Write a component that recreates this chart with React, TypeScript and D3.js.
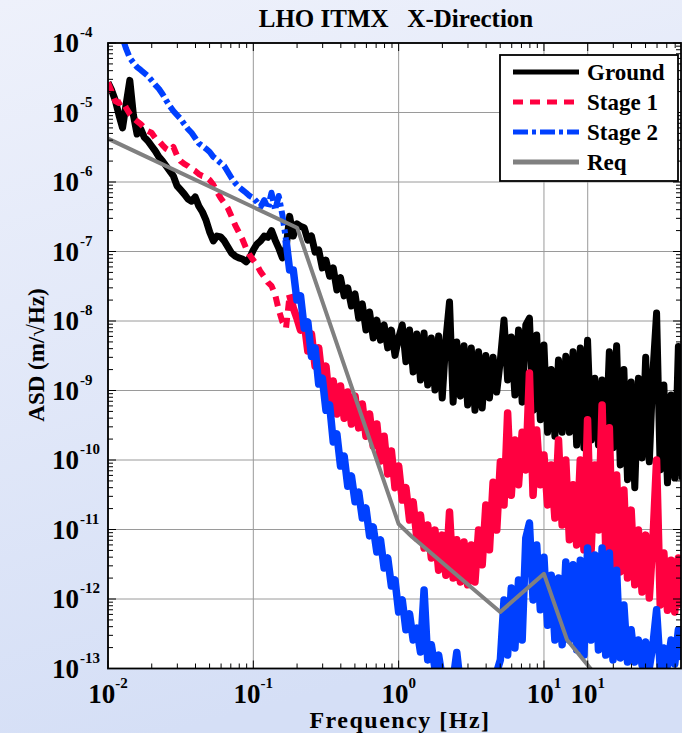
import React from "react";
import * as d3 from "d3";

// Frequency bins (Hz)
const freq: number[] = [
  0.01, 0.01059, 0.01122, 0.01189, 0.01259, 0.01334, 0.01413, 0.01496, 0.01585, 0.01679,
  0.01778, 0.01884, 0.01995, 0.02113, 0.02239, 0.02371, 0.02512, 0.02661, 0.02818, 0.02985,
  0.03162, 0.0335, 0.03548, 0.03758, 0.03981, 0.04217, 0.04467, 0.04732, 0.05012, 0.05309,
  0.05623, 0.05957, 0.0631, 0.06683, 0.07079, 0.07499, 0.07943, 0.08414, 0.08913, 0.09441,
  0.1, 0.1059, 0.1122, 0.1189, 0.1259, 0.1334, 0.1413, 0.1496, 0.1585, 0.1679,
  0.1778, 0.1884, 0.1995, 0.2113, 0.2239, 0.2371, 0.2512, 0.2661, 0.2818, 0.2985,
  0.3162, 0.335, 0.3548, 0.3758, 0.3981, 0.4217, 0.4467, 0.4732, 0.5012, 0.5309,
  0.5623, 0.5957, 0.631, 0.6683, 0.7079, 0.7499, 0.7943, 0.8414, 0.8913, 0.9441,
  1, 1.059, 1.122, 1.189, 1.259, 1.334, 1.413, 1.496, 1.585, 1.679,
  1.778, 1.884, 1.995, 2.113, 2.239, 2.371, 2.512, 2.661, 2.818, 2.985,
  3.162, 3.35, 3.548, 3.758, 3.981, 4.217, 4.467, 4.732, 5.012, 5.309,
  5.623, 5.957, 6.31, 6.683, 7.079, 7.499, 7.943, 8.414, 8.913, 9.441,
  10, 10.59, 11.22, 11.89, 12.59, 13.34, 14.13, 14.96, 15.85, 16.79,
  17.78, 18.84, 19.95, 21.13, 22.39, 23.71, 25.12, 26.61, 28.18, 29.85,
  31.62, 33.5, 35.48, 37.58, 39.81, 42.17, 44.67, 47.32, 50.12, 53.09,
  56.23, 59.57, 63.1, 66.83, 70.79, 74.99, 79.43, 84.14, 89.13,
];

// ASD (m/sqrt(Hz))
const ground: number[] = [
  2.7e-5, 2.1e-5, 1.5e-5, 9.2e-6, 6.0e-6, 1.33e-5, 2.9e-5, 9.2e-6, 4.9e-6, 5.8e-6,
  4.4e-6, 3.9e-6, 3.3e-6, 2.8e-6, 2.3e-6, 2.0e-6, 1.7e-6, 1.44e-6, 1.22e-6, 8.8e-7,
  7.7e-7, 6.7e-7, 5.7e-7, 5.3e-7, 6.1e-7, 4.5e-7, 3.7e-7, 2.8e-7, 1.9e-7, 1.42e-7,
  1.67e-7, 1.62e-7, 1.42e-7, 1.16e-7, 9.5e-8, 8.6e-8, 8.1e-8, 7.8e-8, 7.1e-8, 8.1e-8,
  1.05e-7, 1.28e-7, 1.42e-7, 1.67e-7, 1.6e-7, 2.0e-7, 1.46e-7, 1.12e-7, 8.1e-8, 1.12e-7,
  3.2e-7, 1.67e-7, 2.5e-7, 2.3e-7, 2.2e-7, 1.46e-7, 1.67e-7, 9.8e-8, 1.05e-7, 5.8e-8,
  7.5e-8, 4.4e-8, 5.8e-8, 2.8e-8, 4.2e-8, 2.3e-8, 3.0e-8, 1.64e-8, 2.45e-8, 1.1e-8,
  1.76e-8, 7.4e-9, 1.35e-8, 5.7e-9, 1.03e-8, 5.3e-9, 8.8e-9, 4.1e-9, 7.4e-9, 3.2e-9,
  5.7e-9, 8.8e-9, 2.6e-9, 7.4e-9, 1.85e-9, 6.5e-9, 1.42e-9, 6.7e-9, 1.2e-9, 5.7e-9,
  1.02e-9, 6.1e-9, 7.8e-10, 5.3e-9, 1.88e-8, 6.8e-10, 5.0e-9, 8.3e-10, 4.4e-9, 6.2e-10,
  4.1e-9, 5.2e-10, 3.6e-9, 5.6e-10, 3.2e-9, 7.8e-10, 3.0e-9, 9.5e-10, 2.75e-9, 1.03e-8,
  1.42e-9, 5.9e-9, 8.6e-10, 7.4e-9, 6.8e-10, 8.8e-9, 1.1e-8, 5.2e-10, 6.3e-9, 3.8e-10,
  4.5e-9, 2.5e-10, 2.0e-9, 2.2e-10, 2.75e-9, 2.5e-10, 3.1e-9, 2.5e-10, 3.6e-9, 1.64e-10,
  4.1e-9, 1.5e-10, 5.3e-9, 1.94e-10, 1.5e-9, 1.64e-10, 1.42e-9, 1.6e-10, 3.6e-9, 1.5e-10,
  4.4e-9, 8.5e-11, 2.0e-9, 5.2e-11, 1.33e-9, 4.0e-11, 1.5e-9, 1.07e-10, 3.0e-9, 9.4e-11,
  1.85e-9, 1.3e-8, 7.2e-11, 1.2e-9, 4.7e-11, 8.6e-10, 5.5e-11, 4.3e-9, 5.2e-11,
];

const stage1: number[] = [
  2.7e-5, 2.0e-5, 1.46e-5, 1.37e-5, 1.46e-5, 1.16e-5, 9.5e-6, 8.3e-6, 7.5e-6, 6.8e-6,
  6.0e-6, 5.4e-6, 5.1e-6, 4.3e-6, 3.9e-6, 3.4e-6, 3.0e-6, 2.8e-6, 3.2e-6, 2.4e-6,
  2.0e-6, 1.82e-6, 1.7e-6, 1.54e-6, 1.44e-6, 1.3e-6, 1.22e-6, 1.18e-6, 1.07e-6, 9.1e-7,
  7.2e-7, 5.9e-7, 5.0e-7, 4.2e-7, 3.2e-7, 2.4e-7, 1.9e-7, 1.5e-7, 1.12e-7, 8.9e-8,
  7.5e-8, 6.4e-8, 5.1e-8, 4.3e-8, 3.6e-8, 3.2e-8, 2.4e-8, 1.44e-8, 9.7e-9, 7.9e-9,
  2.4e-8, 1.54e-8, 1.1e-8, 7.4e-9, 9.7e-9, 3.7e-9, 6.5e-9, 2.25e-9, 4.1e-9, 1.37e-9,
  2.25e-9, 6.4e-10, 1.37e-9, 4.6e-10, 1.16e-9, 4.0e-10, 9.5e-10, 3.3e-10, 8.3e-10, 2.9e-10,
  6.4e-10, 2.2e-10, 4.6e-10, 1.59e-10, 3.3e-10, 9.7e-11, 2.2e-10, 6.3e-11, 1.35e-10, 4.0e-11,
  8.2e-11, 2.65e-11, 4.0e-11, 1.37e-11, 2.5e-11, 7.5e-12, 1.62e-11, 5.4e-12, 1.16e-11, 3.9e-12,
  9.8e-12, 2.6e-12, 8.3e-12, 2.2e-12, 1.79e-11, 2.0e-12, 7.1e-12, 1.76e-12, 6.6e-12, 1.6e-12,
  6.0e-12, 1.76e-12, 9.8e-12, 3.1e-12, 2.25e-11, 5.1e-12, 4.8e-11, 9.8e-12, 9.4e-11, 2.25e-11,
  4.75e-10, 3.1e-11, 1.94e-10, 4.4e-11, 2.5e-10, 7.2e-11, 1.79e-9, 3.1e-11, 2.7e-10, 4.4e-11,
  1.18e-10, 2.25e-11, 8.5e-11, 1.46e-11, 1.94e-10, 1.16e-11, 1.0e-10, 7.1e-12, 4.4e-11, 6.0e-12,
  1.0e-10, 5.1e-12, 3.8e-10, 5.1e-12, 8.5e-11, 9.8e-12, 6.2e-10, 5.1e-12, 2.9e-10, 3.1e-12,
  6.1e-11, 2.45e-12, 3.7e-11, 2.0e-12, 1.9e-11, 1.6e-12, 9.8e-12, 1.26e-12, 8.3e-12, 1.03e-12,
  7.1e-12, 1.0e-10, 8.2e-13, 4.6e-12, 6.9e-13, 3.6e-12, 6.5e-13, 3.9e-12, 7.4e-13,
];

const stage2: (number | null)[] = [
  null, null, 2.45e-4, 1.7e-4, 1.18e-4, 8.2e-5, 6.1e-5, 5.2e-5, 4.5e-5, 4.1e-5,
  3.7e-5, 3.35e-5, 2.9e-5, 2.5e-5, 2.2e-5, 1.85e-5, 1.5e-5, 1.24e-5, 1.05e-5, 9.2e-6,
  8.1e-6, 6.8e-6, 5.8e-6, 5.1e-6, 4.3e-6, 3.6e-6, 3.3e-6, 3.0e-6, 2.7e-6, 2.3e-6,
  2.1e-6, 1.88e-6, 1.7e-6, 1.39e-6, 1.14e-6, 9.7e-7, 8.5e-7, 7.7e-7, 7.0e-7, 6.3e-7,
  5.9e-7, 5.15e-7, 4.4e-7, 5.5e-7, 4.2e-7, 7.0e-7, 3.95e-7, 6.3e-7, 3.35e-7, 1.46e-7,
  5.4e-8, 5.4e-8, 2.0e-8, 2.3e-8, 7.9e-9, 9.7e-9, 3.1e-9, 4.1e-9, 1.24e-9, 1.5e-9,
  5.2e-10, 6.2e-10, 1.82e-10, 2.37e-10, 8.2e-11, 1.14e-10, 4.2e-11, 5.9e-11, 2.5e-11, 3.46e-11,
  1.46e-11, 2.04e-11, 8.1e-12, 1.09e-11, 4.75e-12, 7.1e-12, 2.8e-12, 3.9e-12, 1.54e-12, 1.88e-12,
  6.5e-13, 9.7e-13, 3.6e-13, 6.1e-13, 2.57e-13, 3.8e-13, 1.73e-13, 1.35e-12, 1.33e-13, 2.2e-13,
  1.0e-13, 1.56e-13, 7.3e-14, 7.8e-14, 6.4e-14, 6.8e-14, 1.7e-13, 5.8e-14, 4.9e-14, 4.6e-14,
  5.2e-14, 4.9e-14, 6.0e-14, 5.6e-14, 6.8e-14, 7.3e-14, 8.1e-14, 8.9e-14, 1.33e-13, 9.7e-13,
  1.56e-13, 1.44e-12, 1.97e-13, 1.88e-12, 2.57e-13, 7.5e-12, 1.24e-11, 9.7e-13, 6.0e-12, 7.0e-13,
  4.0e-12, 4.2e-13, 2.2e-12, 2.57e-13, 2.0e-12, 2.2e-13, 3.4e-12, 2.57e-13, 3.1e-12, 1.85e-13,
  3.6e-12, 1.56e-13, 5.4e-12, 2.57e-13, 4.3e-12, 1.85e-13, 5.4e-12, 1.56e-13, 4.6e-12, 1.33e-13,
  2.6e-12, 1.42e-13, 8.2e-13, 1.24e-13, 3.6e-13, 1.24e-13, 2.57e-13, 1.12e-13, 2.4e-13, 1.02e-13,
  2.2e-13, 7.0e-13, 1.02e-13, 1.97e-13, 1.09e-13, 2.57e-13, 1.16e-13, 3.6e-13, 1.33e-13,
];

// Requirement curve
const reqFreq: number[] = [0.01, 0.2, 1, 1.24, 5, 10, 14.4, 24];
const reqAsd: number[] = [4.2e-6, 2.2e-7, 1.2e-11, 7.8e-12, 6.5e-13, 2.3e-12, 2.6e-13, 7e-14];

// Axis ticks and labels
const xMajorTicks: number[] = [0.01, 0.1, 1, 10, 20];
const xTickExponents: string[] = ["-2", "-1", "0", "1", "1"];
const yMajorTicks: number[] = [1e-4, 1e-5, 1e-6, 1e-7, 1e-8, 1e-9, 1e-10, 1e-11, 1e-12, 1e-13];
const yTickExponents: string[] = ["-4", "-5", "-6", "-7", "-8", "-9", "-10", "-11", "-12", "-13"];

const legendLabels: string[] = ["Ground", "Stage 1", "Stage 2", "Req"];

const W = 682;
const H = 733;
const L = 108;
const R = 681;
const T = 43;
const B = 668.5;
const FONT = "'Liberation Serif', 'Times New Roman', Times, serif";

const COLORS = ["#000000", "#ff0040", "#0040ff", "#808080"];
const DASHES = ["none", "10,7", "15,4,4,4", "none"];
// dense (noisy) sections render as a continuous band; index where each begins
const DENSE_FROM = [0, 50, 49, 0];

export default function App() {
  const x = d3.scaleLog().domain([0.01, 87.7]).range([L, R]);
  const y = d3.scaleLog().domain([1e-13, 1e-4]).range([B, T]);

  const line = d3
    .line<[number, number]>()
    .x((d) => x(d[0]))
    .y((d) => y(d[1]));

  const pts = (fs: number[], vals: (number | null)[], from = 0, to = Infinity) =>
    fs
      .map((f, i) => [f, vals[i], i] as [number, number | null, number])
      .filter((d) => d[1] != null && d[2] >= from && d[2] <= to)
      .map((d) => [d[0], d[1]] as [number, number]);

  const seriesVals: [number[], (number | null)[]][] = [
    [freq, ground],
    [freq, stage1],
    [freq, stage2],
    [reqFreq, reqAsd],
  ];
  const widths = [7, 6, 6, 4];
  const denseWidths = [7, 7.5, 7.5, 4];

  const xMinor: number[] = [];
  [0.01, 0.1, 1, 10].forEach((d) => {
    for (let m = 2; m <= 9; m++) {
      const v = d * m;
      if (v <= 87.7 && Math.abs(v - 20) > 1e-9) xMinor.push(v);
    }
  });
  const yMinor: number[] = [];
  yMajorTicks.slice(1).forEach((d) => {
    for (let m = 2; m <= 9; m++) yMinor.push(d * m);
  });

  return (
    <svg
      width={W}
      height={H}
      style={{ position: "absolute", left: 0, top: 0 }}
      fontFamily={FONT}
    >
      <defs>
        <linearGradient id="bg" x1="0" y1="0" x2="0.25" y2="1">
          <stop offset="0" stopColor="#eef1fb" />
          <stop offset="1" stopColor="#d5dff6" />
        </linearGradient>
        <clipPath id="plotClip">
          <rect x={L} y={T} width={R - L} height={B - T} />
        </clipPath>
      </defs>
      <rect x={0} y={0} width={W} height={H} fill="url(#bg)" />
      <rect x={L} y={T} width={R - L} height={B - T} fill="#ffffff" />

      {/* grid */}
      <g stroke="#9a9a9a" strokeWidth={1}>
        {xMajorTicks.map((v, i) => (
          <line key={"gx" + i} x1={x(v)} x2={x(v)} y1={T} y2={B} />
        ))}
        {yMajorTicks.map((v, i) => (
          <line key={"gy" + i} x1={L} x2={R} y1={y(v)} y2={y(v)} />
        ))}
      </g>

      {/* data */}
      <g clipPath="url(#plotClip)" fill="none" strokeLinejoin="round">
        {seriesVals.map(([fs, vs], i) => {
          const split = DENSE_FROM[i];
          if (split === 0 || DASHES[i] === "none") {
            return (
              <path
                key={"s" + i}
                d={line(pts(fs, vs)) || ""}
                stroke={COLORS[i]}
                strokeWidth={widths[i]}
                strokeDasharray={DASHES[i]}
              />
            );
          }
          return (
            <g key={"s" + i}>
              <path
                d={line(pts(fs, vs, 0, split)) || ""}
                stroke={COLORS[i]}
                strokeWidth={widths[i]}
                strokeDasharray={DASHES[i]}
              />
              <path
                d={line(pts(fs, vs, split)) || ""}
                stroke={COLORS[i]}
                strokeWidth={denseWidths[i]}
              />
            </g>
          );
        })}
      </g>

      {/* ticks */}
      <g stroke="#000" strokeWidth={1}>
        {xMajorTicks.map((v, i) => (
          <g key={"xt" + i}>
            <line x1={x(v)} x2={x(v)} y1={B} y2={B - 8} />
            <line x1={x(v)} x2={x(v)} y1={T} y2={T + 8} />
          </g>
        ))}
        {xMinor.map((v, i) => (
          <g key={"xm" + i}>
            <line x1={x(v)} x2={x(v)} y1={B} y2={B - 5} />
            <line x1={x(v)} x2={x(v)} y1={T} y2={T + 5} />
          </g>
        ))}
        {yMajorTicks.map((v, i) => (
          <g key={"yt" + i}>
            <line x1={L} x2={L + 8} y1={y(v)} y2={y(v)} />
            <line x1={R} x2={R - 8} y1={y(v)} y2={y(v)} />
          </g>
        ))}
        {yMinor.map((v, i) => (
          <g key={"ym" + i}>
            <line x1={L} x2={L + 5} y1={y(v)} y2={y(v)} />
            <line x1={R} x2={R - 5} y1={y(v)} y2={y(v)} />
          </g>
        ))}
      </g>
      <rect x={L} y={T} width={R - L} height={B - T} fill="none" stroke="#000" strokeWidth={1.8} />

      {/* x tick labels */}
      {xMajorTicks.map((v, i) => (
        <text
          key={"xl" + i}
          x={x(v)}
          y={703}
          textAnchor="middle"
          fontSize={27}
          fontWeight="bold"
          fill="#000"
        >
          10
          <tspan dy={-15} fontSize={15}>
            {xTickExponents[i]}
          </tspan>
        </text>
      ))}

      {/* y tick labels */}
      {yMajorTicks.map((v, i) => (
        <g key={"yl" + i}>
          <text x={79} y={y(v) + 9} textAnchor="end" fontSize={27} fontWeight="bold" fill="#000">
            10
          </text>
          <text x={80} y={y(v) - 6} fontSize={15} fontWeight="bold" fill="#000">
            {yTickExponents[i]}
          </text>
        </g>
      ))}

      {/* titles */}
      <text
        x={396}
        y={27}
        textAnchor="middle"
        fontSize={25}
        fontWeight="bold"
        style={{ whiteSpace: "pre" }}
      >
        {"LHO ITMX   X-Direction"}
      </text>
      <text
        x={400}
        y={728}
        textAnchor="middle"
        fontSize={24}
        fontWeight="bold"
        letterSpacing={1.5}
      >
        Frequency [Hz]
      </text>
      <text
        transform="translate(44,355) rotate(-90)"
        textAnchor="middle"
        fontSize={23}
        fontWeight="bold"
      >
        ASD (m/√Hz)
      </text>

      {/* legend */}
      <g>
        <rect x={500} y={55} width={178} height={126} fill="#fff" stroke="#000" strokeWidth={1.8} />
        {legendLabels.map((lab, i) => {
          const ly = 72 + i * 30;
          return (
            <g key={"lg" + i}>
              <line
                x1={513}
                x2={579}
                y1={ly}
                y2={ly}
                stroke={COLORS[i]}
                strokeWidth={5}
                strokeDasharray={DASHES[i]}
              />
              <text x={587} y={ly + 8} fontSize={23} fontWeight="bold">
                {lab}
              </text>
            </g>
          );
        })}
      </g>
    </svg>
  );
}
